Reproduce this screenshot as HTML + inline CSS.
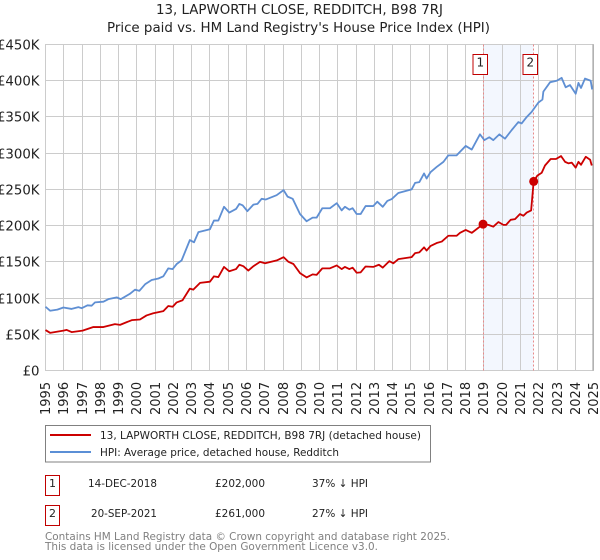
<!DOCTYPE html>
<html><head><meta charset="utf-8"><style>
html,body{margin:0;padding:0;background:#fff;width:600px;height:560px;overflow:hidden}
svg{display:block}
text{font-family:"DejaVu Sans","Liberation Sans",sans-serif;fill:#222}
</style></head><body>
<svg id="c" width="600" height="560" viewBox="0 0 600 560">
<text x="156" y="14" font-size="13" textLength="287" lengthAdjust="spacingAndGlyphs">13, LAPWORTH CLOSE, REDDITCH, B98 7RJ</text>
<text x="107" y="32" font-size="13" textLength="383" lengthAdjust="spacingAndGlyphs">Price paid vs. HM Land Registry's House Price Index (HPI)</text>
<g id="plot"></g>
<g>
<rect x="45.5" y="425.5" width="385" height="36.5" fill="#fff" stroke="#808080"/>
<line x1="50" x2="91" y1="435" y2="435" stroke="#cc0000" stroke-width="2"/>
<text x="100" y="439" font-size="11" textLength="321" lengthAdjust="spacingAndGlyphs">13, LAPWORTH CLOSE, REDDITCH, B98 7RJ (detached house)</text>
<line x1="50" x2="91" y1="452" y2="452" stroke="#5b8fd6" stroke-width="2"/>
<text x="100" y="456" font-size="11" textLength="239" lengthAdjust="spacingAndGlyphs">HPI: Average price, detached house, Redditch</text>
</g>
<g>
<rect x="45.5" y="475.5" width="14" height="20" fill="#fff" stroke="#c00000"/>
<text x="52.5" y="487" text-anchor="middle" font-size="11">1</text>
<text x="88" y="487" font-size="11" textLength="69" lengthAdjust="spacingAndGlyphs">14-DEC-2018</text>
<text x="215" y="487" font-size="11" textLength="50" lengthAdjust="spacingAndGlyphs">£202,000</text>
<text x="312" y="487" font-size="11" textLength="56" lengthAdjust="spacingAndGlyphs">37% ↓ HPI</text>
<rect x="45.5" y="505.5" width="14" height="20" fill="#fff" stroke="#c00000"/>
<text x="52.5" y="517" text-anchor="middle" font-size="11">2</text>
<text x="91" y="517" font-size="11" textLength="66" lengthAdjust="spacingAndGlyphs">20-SEP-2021</text>
<text x="215" y="517" font-size="11" textLength="50" lengthAdjust="spacingAndGlyphs">£261,000</text>
<text x="312" y="517" font-size="11" textLength="56" lengthAdjust="spacingAndGlyphs">27% ↓ HPI</text>
</g>
<text x="45" y="540" font-size="11" style="fill:#808080" textLength="405" lengthAdjust="spacingAndGlyphs">Contains HM Land Registry data © Crown copyright and database right 2025.</text>
<text x="45" y="550" font-size="11" style="fill:#808080" textLength="333" lengthAdjust="spacingAndGlyphs">This data is licensed under the Open Government Licence v3.0.</text>
</svg>
<script>
const yTicks = [0, 50, 100, 150, 200, 250, 300, 350, 400, 450];
const xTicks = [1995,1996,1997,1998,1999,2000,2001,2002,2003,2004,2005,2006,2007,2008,2009,2010,2011,2012,2013,2014,2015,2016,2017,2018,2019,2020,2021,2022,2023,2024,2025];
const saleDates = [2018.95, 2021.72];
const salePrices = [202, 261];
const saleLabels = ['1', '2'];
const priceYears = [1995,1995.25,1995.98,1996.16,1996.43,1997.03,1997.62,1998.17,1998.8,1999.08,1999.72,2000.17,2000.53,2000.9,2001.45,2001.72,2001.96,2002.18,2002.5,2002.9,2003.09,2003.46,2004,2004.22,2004.46,2004.77,2005.06,2005.43,2005.61,2005.83,2006.1,2006.38,2006.74,2007.02,2007.66,2008.03,2008.3,2008.57,2008.93,2009.29,2009.62,2009.84,2010.15,2010.57,2010.94,2011.21,2011.39,2011.63,2011.81,2012.03,2012.25,2012.52,2012.94,2013.25,2013.46,2013.82,2014.04,2014.31,2015.04,2015.23,2015.46,2015.72,2015.86,2016.08,2016.41,2016.69,2017.05,2017.5,2017.69,2018,2018.33,2018.95,2019.24,2019.51,2019.79,2020.06,2020.21,2020.46,2020.7,2020.97,2021.16,2021.34,2021.58,2021.72,2021.92,2022.16,2022.34,2022.65,2022.94,2023.22,2023.44,2023.62,2023.8,2024.02,2024.17,2024.31,2024.57,2024.81,2024.9];
const priceValues = [55.8,52,55,56,53,55,60,60,64,63,69.5,70.4,76,79,82,89,88,94,97,113,111.6,121,122.6,130,129,143,137,140,146,144,138,144,150,148,152,156.5,150,147,134.5,128.5,132.7,132,141,141,145,140,143,140,142,135,135.5,143.6,143,146,142,151,148,153.7,156.5,162,163,170,165.6,172,176,178,186,186,190,194,190,202,201,198.5,205,201,201,208,209,216,213.6,218,221,261,269,273,283,292,292,296,288,286,287,280,288,284,295,291,283];
const hpiYears = [1995,1995.25,1995.65,1995.98,1996.43,1996.8,1996.98,1997.3,1997.53,1997.71,1998.17,1998.44,1998.9,1999.12,1999.63,1999.9,2000.14,2000.45,2000.81,2001.18,2001.45,2001.72,2001.96,2002.18,2002.45,2002.9,2003.13,2003.37,2004,2004.22,2004.46,2004.77,2005.06,2005.43,2005.61,2005.79,2006.05,2006.38,2006.6,2006.83,2007.05,2007.65,2008.03,2008.25,2008.53,2008.93,2009.29,2009.62,2009.84,2010.15,2010.57,2010.94,2011.21,2011.39,2011.63,2011.81,2012.03,2012.25,2012.52,2012.94,2013.16,2013.46,2013.71,2013.95,2014.31,2015.04,2015.23,2015.46,2015.72,2015.86,2016.08,2016.41,2016.78,2017.05,2017.5,2017.69,2018,2018.33,2018.78,2019.02,2019.29,2019.51,2019.84,2020.15,2020.52,2020.88,2021.06,2021.34,2021.61,2021.98,2022.2,2022.25,2022.62,2022.98,2023.25,2023.47,2023.71,2024.02,2024.17,2024.31,2024.53,2024.84,2024.92];
const hpiValues = [88,82.5,84,87,85,87.5,86,90,89.5,94,95,98.5,101,98.5,106,111.6,110,119,125,127,130,141,140,147,152,180,177,191,195,207,207,226,218,223,230,228,220,229,230,237,236,242,249,240,237,216,206,211,211,224,224,231,221,226,222,224,216,216,227,227,233,226,234,236.7,245,250,259,260,272,265,274,281,288,297,297,302,310,305,326,318,322,318,326,320,332,343,341,350,357,370,374,385,398,400,404,391,394,382,397,390,403,400,388];

const NS = 'http://www.w3.org/2000/svg';
const plot = document.getElementById('plot');
const xScale = v => 45.5 + (v - 1995) * 18.27;
const yScale = v => 370.5 - v * 0.7244;
function add(tag, attrs, text) {
  const el = document.createElementNS(NS, tag);
  for (const k in attrs) el.setAttribute(k, attrs[k]);
  if (text !== undefined) el.textContent = text;
  plot.appendChild(el);
  return el;
}
function mark(el, name) {
  
  
}
function pathOf(xs, ys) {
  return xs.map((x, i) => (i ? 'L' : 'M') + xScale(x).toFixed(2) + ' ' + yScale(ys[i]).toFixed(2)).join(' ');
}
const span = add('rect', {x: xScale(saleDates[0]), y: yScale(450), width: xScale(saleDates[1]) - xScale(saleDates[0]), height: yScale(0) - yScale(450), fill: '#f3f7fe'});
mark(span, 'sale-period-shade');
yTicks.forEach(t => {
  const y = Math.round(yScale(t) - 0.5) + 0.5;
  const g = add('line', {x1: 45, x2: 594, y1: y, y2: y, stroke: '#cccccc', 'stroke-width': 1});
  mark(g, 'y-gridline-' + t);
  const l = add('text', {x: 39.5, y: y + 5, 'text-anchor': 'end', 'font-size': 13.3}, t === 0 ? '£0' : '£' + t + 'K');
  mark(l, 'y-tick-label-' + t);
});
xTicks.forEach(t => {
  const x = Math.round(xScale(t) - 0.5) + 0.5;
  const g = add('line', {x1: x, x2: x, y1: 44.5, y2: 370.5, stroke: '#cccccc', 'stroke-width': 1});
  mark(g, 'x-gridline-' + t);
  const l = add('text', {transform: 'translate(' + (x + 4.5) + ' 415) rotate(-90)', 'font-size': 13}, String(t));
  mark(l, 'x-tick-label-' + t);
});
const spine = add('line', {x1: 593, x2: 593, y1: 44.5, y2: 370.5, stroke: '#999999', 'stroke-width': 1});
mark(spine, 'right-axis-spine');
saleDates.forEach((d, i) => {
  const x = Math.round(xScale(d) - 0.5) + 0.5;
  const v = add('line', {x1: x, x2: x, y1: 44.5, y2: 370.5, stroke: '#e88a8a', 'stroke-width': 1, 'stroke-dasharray': '2 2'});
  mark(v, 'sale-marker-line-' + saleLabels[i]);
});
const hpi = add('path', {d: pathOf(hpiYears, hpiValues), fill: 'none', stroke: '#5f8fd3', 'stroke-width': 1.8, 'stroke-linejoin': 'round'});
mark(hpi, 'hpi-line');
const price = add('path', {d: pathOf(priceYears, priceValues), fill: 'none', stroke: '#cc0000', 'stroke-width': 1.8, 'stroke-linejoin': 'round'});
mark(price, 'price-paid-line');
saleDates.forEach((d, i) => {
  const pt = add('circle', {cx: xScale(d), cy: yScale(salePrices[i]), r: 4.5, fill: '#cc0000'});
  mark(pt, 'sale-point-' + saleLabels[i]);
  const x = Math.round(xScale(d) - 0.5) + 0.5;
  const b = add('rect', {x: x - 10.5, y: 54.5, width: 14.5, height: 20, fill: '#fff', stroke: '#c00000', 'stroke-width': 1});
  mark(b, 'sale-badge-' + saleLabels[i]);
  const t = add('text', {x: x - 3.2, y: 66.5, 'text-anchor': 'middle', 'font-size': 12}, saleLabels[i]);
  mark(t, 'sale-badge-label-' + saleLabels[i]);
});
</script>
</body></html>
